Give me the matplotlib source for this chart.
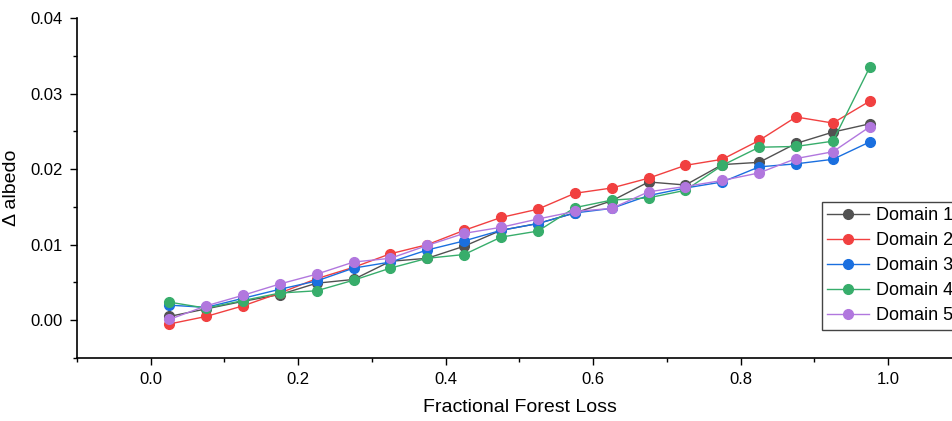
import numpy as np
import matplotlib
matplotlib.use("Agg")
import matplotlib.pyplot as plt
from matplotlib.ticker import MultipleLocator

plt.rcParams['font.family'] = ['Liberation Sans', 'DejaVu Sans']

# bin centres of forest loss
forest_loss = [0.025, 0.075, 0.125, 0.175, 0.225, 0.275, 0.325, 0.375, 0.425, 0.475,
               0.525, 0.575, 0.625, 0.675, 0.725, 0.775, 0.825, 0.875, 0.925, 0.975]

domain1 = [0.0005, 0.0015, 0.0025, 0.0034, 0.0049, 0.0054, 0.0078, 0.0082, 0.0098, 0.0119,
           0.0128, 0.0142, 0.0158, 0.0183, 0.0179, 0.0206, 0.0209, 0.0234, 0.0249, 0.0260]
domain2 = [-0.0005, 0.0005, 0.0019, 0.0036, 0.0055, 0.0070, 0.0088, 0.0100, 0.0119, 0.0136,
           0.0147, 0.0168, 0.0175, 0.0188, 0.0205, 0.0213, 0.0238, 0.0269, 0.0261, 0.0290]
domain3 = [0.0020, 0.0017, 0.0029, 0.0041, 0.0052, 0.0069, 0.0077, 0.0093, 0.0105, 0.0119,
           0.0128, 0.0142, 0.0148, 0.0165, 0.0175, 0.0183, 0.0203, 0.0207, 0.0213, 0.0236]
domain4 = [0.0024, 0.0016, 0.0026, 0.0036, 0.0039, 0.0053, 0.0069, 0.0082, 0.0087, 0.0110,
           0.0118, 0.0149, 0.0159, 0.0162, 0.0172, 0.0205, 0.0229, 0.0230, 0.0237, 0.0335]
domain5 = [0.0001, 0.0019, 0.0033, 0.0048, 0.0061, 0.0077, 0.0082, 0.0099, 0.0115, 0.0123,
           0.0134, 0.0144, 0.0148, 0.0170, 0.0177, 0.0185, 0.0195, 0.0214, 0.0223, 0.0256]

labels = ["Domain 1", "Domain 2", "Domain 3", "Domain 4", "Domain 5"]
colors = ["#515151", "#F14040", "#1A6FDF", "#37AD6B", "#B177DE"]

fig = plt.figure(figsize=(9.53, 4.21), dpi=100)
ax = fig.add_axes([0.0808, 0.1496, 0.9286, 0.8076])

for vals, lab, col in zip([domain1, domain2, domain3, domain4, domain5], labels, colors):
    ax.plot(forest_loss, vals, color=col, lw=1, marker="o", markersize=7, label=lab)

ax.set_xlim(-0.1, 1.1)
ax.set_ylim(-0.005, 0.04)
ax.xaxis.set_major_locator(MultipleLocator(0.2))
ax.xaxis.set_minor_locator(MultipleLocator(0.1))
ax.yaxis.set_major_locator(MultipleLocator(0.01))
ax.yaxis.set_minor_locator(MultipleLocator(0.005))
ax.yaxis.set_major_formatter(plt.FormatStrFormatter("%.2f"))
ax.xaxis.set_major_formatter(plt.FormatStrFormatter("%.1f"))

for side in ["top", "right"]:
    ax.spines[side].set_visible(False)
for side in ["left", "bottom"]:
    ax.spines[side].set_linewidth(1.2)
ax.tick_params(which="major", length=5, width=1, labelsize=12, direction="out", pad=5)
ax.tick_params(which="minor", length=3, width=1, direction="out")

ax.set_xlabel("Fractional Forest Loss", fontsize=14, labelpad=9)
ax.set_ylabel("Δ albedo", fontsize=14, labelpad=8)

# legend runs past the right edge, as in the original export
fig.legend(loc="upper left", bbox_to_anchor=(0.8625, 0.52), fontsize=13,
           frameon=True, fancybox=False, edgecolor="#444444", framealpha=1,
           borderpad=0.3, labelspacing=0.44, handlelength=2.3, handletextpad=0.4,
           borderaxespad=0)

fig.savefig("out.png", dpi=100)
